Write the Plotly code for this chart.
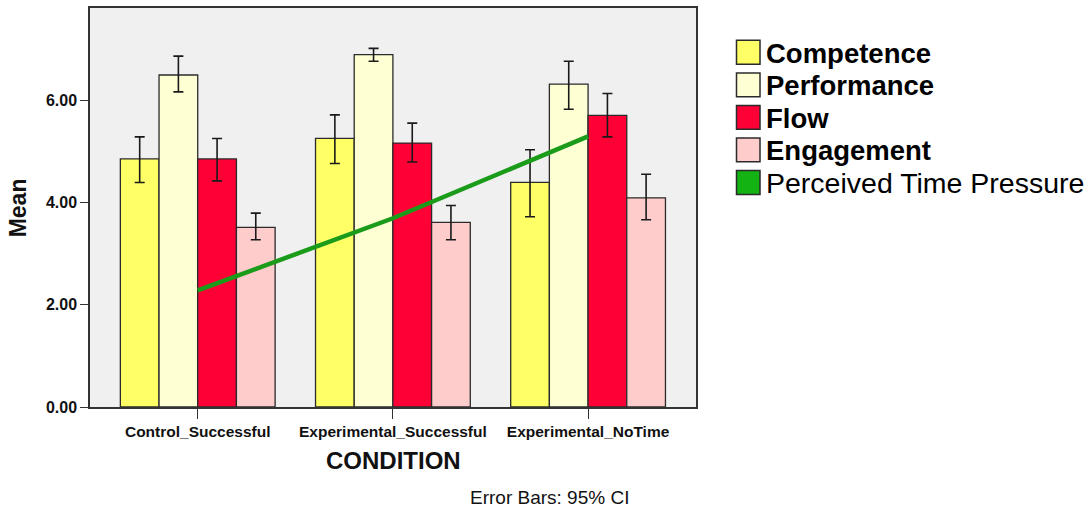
import plotly.graph_objects as go

# ---- data ----
conditions = ["Control_Successful", "Experimental_Successful", "Experimental_NoTime"]

competence = [4.85, 5.25, 4.39]
competence_hi = [5.28, 5.71, 5.03]
competence_lo = [4.39, 4.76, 3.72]

performance = [6.49, 6.89, 6.31]
performance_hi = [6.86, 7.01, 6.76]
performance_lo = [6.16, 6.76, 5.82]

flow = [4.85, 5.16, 5.70]
flow_hi = [5.25, 5.55, 6.13]
flow_lo = [4.42, 4.79, 5.28]

engagement = [3.51, 3.61, 4.09]
engagement_hi = [3.79, 3.94, 4.55]
engagement_lo = [3.27, 3.27, 3.66]

time_pressure = [2.28, 3.69, 5.29]

y_ticks = [0, 2, 4, 6]
y_tick_labels = ["0.00", "2.00", "4.00", "6.00"]

series_names = ["Competence", "Performance", "Flow", "Engagement"]
line_name = "Perceived Time Pressure"

# ---- styles ----
bar_colors = ["#ffff66", "#ffffd4", "#ff0036", "#ffcccc"]
line_color = "#1a9c1a"
legend_line_color = "#12b312"
FONT = "Liberation Sans, Arial, sans-serif"

W, H = 1091, 508
L, R, T, B = 90, 696, 6, 407.3


def px_x(px):
    return (px - L) / (R - L)


def px_y(py):
    return (B - py) / (B - T)


fig = go.Figure()

bar_data = [
    (competence, competence_hi, competence_lo),
    (performance, performance_hi, performance_lo),
    (flow, flow_hi, flow_lo),
    (engagement, engagement_hi, engagement_lo),
]

for name, color, (vals, hi, lo) in zip(series_names, bar_colors, bar_data):
    fig.add_trace(go.Bar(
        name=name,
        x=conditions,
        y=vals,
        marker=dict(color=color, line=dict(color="#2b2b2b", width=1.3)),
        error_y=dict(
            type="data", symmetric=False,
            array=[h - v for h, v in zip(hi, vals)],
            arrayminus=[v - l for v, l in zip(vals, lo)],
            color="#1a1a1a", thickness=1.6, width=5,
        ),
        showlegend=False,
    ))

fig.add_trace(go.Scatter(
    name=line_name,
    x=conditions,
    y=time_pressure,
    mode="lines",
    line=dict(color=line_color, width=4.5),
    showlegend=False,
))

# ---- manual legend ----
legend_colors = bar_colors + [legend_line_color]
legend_names = series_names + [line_name]
shapes = []
annotations = []
for i, (nm, col) in enumerate(zip(legend_names, legend_colors)):
    cy = 50.5 + 32.75 * i
    shapes.append(dict(
        type="rect", xref="paper", yref="paper",
        x0=px_x(736.5), x1=px_x(760), y0=px_y(cy - 12), y1=px_y(cy + 12),
        fillcolor=col, line=dict(color="#2b2b2b", width=1.5),
    ))
    bold = i < 4
    annotations.append(dict(
        xref="paper", yref="paper", x=px_x(764), y=px_y(cy + 1),
        xanchor="left", yanchor="middle", showarrow=False,
        text=nm,
        font=dict(family=FONT, size=27.5 if bold else 28.5, color="#000000",
                  weight="bold" if bold else "normal"),
    ))

annotations.append(dict(
    xref="paper", yref="paper", x=px_x(393), y=px_y(461),
    xanchor="center", yanchor="middle", showarrow=False,
    text="CONDITION",
    font=dict(family=FONT, size=24, color="#111111", weight="bold"),
))
annotations.append(dict(
    xref="paper", yref="paper", x=px_x(17.5), y=px_y(207),
    xanchor="center", yanchor="middle", showarrow=False, textangle=-90,
    text="Mean",
    font=dict(family=FONT, size=23, color="#111111", weight="bold"),
))
annotations.append(dict(
    xref="paper", yref="paper", x=px_x(549), y=px_y(498),
    xanchor="center", yanchor="middle", showarrow=False,
    text="Error Bars: 95% CI",
    font=dict(family=FONT, size=19, color="#111111"),
))

fig.update_layout(
    width=W, height=H,
    margin=dict(l=L, r=W - R, t=T, b=H - B, pad=0),
    paper_bgcolor="white",
    plot_bgcolor="#f0f0f0",
    barmode="group",
    bargap=0.207,
    bargroupgap=0,
    showlegend=False,
    shapes=shapes,
    annotations=annotations,
    font=dict(family=FONT, color="#111111"),
)

fig.update_xaxes(
    type="category",
    range=[-0.552, 2.553],
    showline=True, mirror=True, linecolor="#333333", linewidth=1.5,
    ticks="outside", ticklen=10, tickwidth=1.3, tickcolor="#333333",
    tickfont=dict(family=FONT, size=15.5, color="#111111", weight="bold"),
    showgrid=False, zeroline=False,
)
fig.update_yaxes(
    range=[0, 7.8],
    tickvals=y_ticks, ticktext=y_tick_labels,
    showline=True, mirror=True, linecolor="#333333", linewidth=1.5,
    ticks="outside", ticklen=8, tickwidth=1.3, tickcolor="#333333",
    tickfont=dict(family=FONT, size=16, color="#111111", weight="bold"),
    showgrid=False, zeroline=False,
)

fig.write_html(
    "out.html",
    config={"displayModeBar": False},
    post_script="document.body.style.margin='0px';document.body.style.padding='0px';",
)
